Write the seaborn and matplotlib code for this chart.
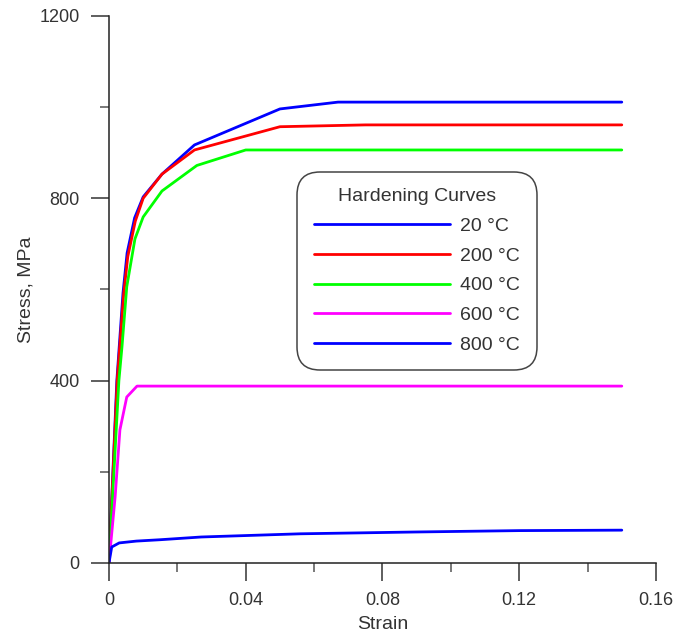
import matplotlib
matplotlib.use("Agg")
import matplotlib.pyplot as plt
from matplotlib.ticker import MultipleLocator
import numpy as np
import pandas as pd
import seaborn as sns

# Hardening curves (true strain vs. flow stress) at several temperatures
temperatures = ["20 °C", "200 °C", "400 °C", "600 °C", "800 °C"]
colors = ["#0000ff", "#ff0000", "#00ff00", "#ff00ff", "#0000ff"]

strain_20 = [0, 0.0023, 0.0041, 0.0053, 0.0075, 0.010, 0.0155, 0.025, 0.050, 0.067, 0.150]
stress_20 = [0, 400, 592, 680, 757, 803, 853, 917, 996, 1011, 1011]

strain_200 = [0, 0.0024, 0.0043, 0.0055, 0.0077, 0.010, 0.0155, 0.025, 0.050, 0.075, 0.150]
stress_200 = [0, 400, 590, 672, 750, 800, 853, 906, 957, 961, 961]

strain_400 = [0, 0.0029, 0.0038, 0.0052, 0.0076, 0.010, 0.0155, 0.0257, 0.040, 0.150]
stress_400 = [0, 400, 474, 606, 711, 759, 816, 872, 906, 906]

strain_600 = [0, 0.0018, 0.0032, 0.0052, 0.0082, 0.150]
stress_600 = [0, 145, 292, 364, 388, 388]

strain_800 = [0, 0.0008, 0.003, 0.008, 0.015, 0.027, 0.056, 0.090, 0.120, 0.150]
stress_800 = [0, 35, 44, 48, 51, 57, 64, 68, 71, 72]

x_ticks = [0, 0.04, 0.08, 0.12, 0.16]
x_tick_labels = ["0", "0.04", "0.08", "0.12", "0.16"]
y_ticks = [0, 400, 800, 1200]
y_tick_labels = ["0", "400", "800", "1200"]

series = [
    (temperatures[0], strain_20, stress_20),
    (temperatures[1], strain_200, stress_200),
    (temperatures[2], strain_400, stress_400),
    (temperatures[3], strain_600, stress_600),
    (temperatures[4], strain_800, stress_800),
]
frames = []
for label, eps, sig in series:
    frames.append(pd.DataFrame({"Strain": eps, "Stress": sig, "Curve": label}))
df = pd.concat(frames, ignore_index=True)

sns.set_style("ticks")
plt.rcParams["font.family"] = ["Liberation Sans", "DejaVu Sans"]

fig = plt.figure(figsize=(6.79, 6.38), dpi=100)
ax = fig.add_axes([0.1605, 0.1176, 0.8056, 0.8574])

palette = dict(zip(temperatures, colors))
sns.lineplot(data=df, x="Strain", y="Stress", hue="Curve", hue_order=temperatures,
             palette=palette, sort=False, estimator=None, linewidth=2.0, ax=ax,
             legend=False)

ax.set_xlim(0, 0.16)
ax.set_ylim(0, 1200)
ax.set_xticks(x_ticks)
ax.set_xticklabels(x_tick_labels)
ax.set_yticks(y_ticks)
ax.set_yticklabels(y_tick_labels)
ax.xaxis.set_minor_locator(MultipleLocator(0.02))
ax.yaxis.set_minor_locator(MultipleLocator(200))

for side in ["top", "right"]:
    ax.spines[side].set_visible(False)
for side in ["left", "bottom"]:
    ax.spines[side].set_color("#222222")
    ax.spines[side].set_linewidth(1.1)

tick_color = "#333333"
ax.tick_params(axis="both", which="major", direction="out", length=13, width=1.1,
               color="#333333", labelsize=13, labelcolor=tick_color, pad=8)
ax.tick_params(axis="both", which="minor", direction="out", length=6.5, width=1.1,
               color="#555555")

ax.set_xlabel("Strain", fontsize=14, color=tick_color, labelpad=5)
ax.set_ylabel("Stress, MPa", fontsize=14, color=tick_color, labelpad=4)

handles = [plt.Line2D([], [], color=c, linewidth=2.0) for c in colors]
leg = ax.legend(handles, temperatures, title="Hardening Curves",
                loc="upper left", bbox_to_anchor=(0.344, 0.715), borderaxespad=0,
                fontsize=14, title_fontsize=14, handlelength=7.0, handletextpad=0.55,
                labelspacing=0.62, frameon=True, fancybox=True, framealpha=1,
                edgecolor="#444444", borderpad=0.85)
leg.get_frame().set_linewidth(1.1)
leg.get_frame().set_boxstyle("round", pad=0, rounding_size=1.2)
for t in leg.get_texts():
    t.set_color(tick_color)
leg.get_title().set_color(tick_color)

fig.savefig("out.png", dpi=100, facecolor="white")
